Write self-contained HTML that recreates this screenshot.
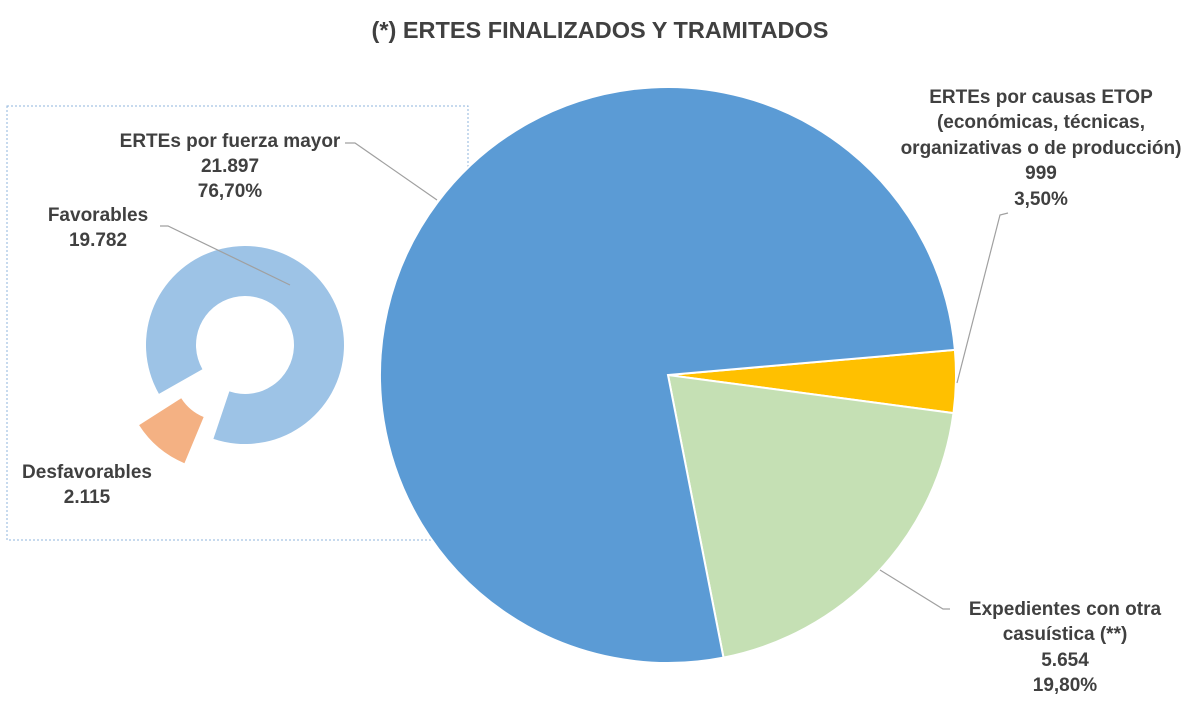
<!DOCTYPE html>
<html><head><meta charset="utf-8"><style>
body{margin:0;background:#fff;width:1200px;height:715px;overflow:hidden}
svg text{font-family:"Liberation Sans",sans-serif;font-weight:bold;fill:#404040}
</style></head><body>
<svg id="chart" width="1200" height="715">
<text x="600" y="38" text-anchor="middle" font-size="23.5">(*) ERTES FINALIZADOS Y TRAMITADOS</text>
<rect x="7" y="106" width="461" height="434" fill="none" stroke="#8fb4dc" stroke-dasharray="2,2"/>
<g id="pie"></g><g id="donut"></g>
<g font-size="19" text-anchor="middle">
<text x="230" y="147">ERTEs por fuerza mayor</text>
<text x="230" y="172">21.897</text>
<text x="230" y="197">76,70%</text>
<text x="98" y="221">Favorables</text>
<text x="98" y="246">19.782</text>
<text x="87" y="478">Desfavorables</text>
<text x="87" y="503">2.115</text>
<text x="1041" y="103">ERTEs por causas ETOP</text>
<text x="1041" y="128">(económicas, técnicas,</text>
<text x="1041" y="154">organizativas o de producción)</text>
<text x="1041" y="179">999</text>
<text x="1041" y="205">3,50%</text>
<text x="1065" y="615">Expedientes con otra</text>
<text x="1065" y="640">casuística (**)</text>
<text x="1065" y="666">5.654</text>
<text x="1065" y="691">19,80%</text>
</g>
<g fill="none" stroke="#a0a0a0" stroke-width="1.2">
<polyline points="345,143 355,143 437,200"/>
<polyline points="160,226 168,226 290,285"/>
<polyline points="957,383 1000,215 1008,213"/>
<polyline points="880,570 943,609 950,609"/>
</g>
</svg>
<script>
const pieCategories=["etop","otra","fuerza-mayor"];
const pieValues=[999,5654,21897];
const pieColors=["#ffc000","#c5e0b4","#5b9bd5"];
const donutCategories=["favorables","desfavorables"];
const donutValues=[19782,2115];
const donutColors=["#9dc3e6","#f4b183"];
const NS="http://www.w3.org/2000/svg";
function pt(cx,cy,r,a){const t=a*Math.PI/180;return [cx+r*Math.cos(t),cy+r*Math.sin(t)];}
function sector(cx,cy,r,a0,a1){const p0=pt(cx,cy,r,a0),p1=pt(cx,cy,r,a1);const l=(a1-a0)>180?1:0;
return `M${cx},${cy}L${p0}A${r},${r} 0 ${l} 1 ${p1}Z`;}
function ring(cx,cy,r0,r1,a0,a1){const l=(a1-a0)>180?1:0;const a=pt(cx,cy,r1,a0),b=pt(cx,cy,r1,a1),c=pt(cx,cy,r0,a1),d=pt(cx,cy,r0,a0);
return `M${a}A${r1},${r1} 0 ${l} 1 ${b}L${c}A${r0},${r0} 0 ${l} 0 ${d}Z`;}
const pie=document.getElementById('pie');
let tot=pieValues.reduce((s,v)=>s+v,0),ang=-5;
pieValues.forEach((v,i)=>{const sw=v/tot*360;const p=document.createElementNS(NS,'path');
p.setAttribute('d',sector(668,375,288,ang,ang+sw));p.setAttribute('fill',pieColors[i]);p.setAttribute('stroke','#fff');p.setAttribute('stroke-width','2');


pie.appendChild(p);ang+=sw;});
const donut=document.getElementById('donut');
let dt=donutValues.reduce((s,v)=>s+v,0);
const dSw=donutValues[1]/dt*360;const dStart=130-dSw/2;
const fSw=donutValues[0]/dt*360;
[[0,dStart+dSw+3,dStart+dSw+3+fSw-7,0],[1,dStart,dStart+dSw,35]].forEach(([i,a0,a1,ex])=>{
const mid=(130)*Math.PI/180;const cx=245+ex*Math.cos(mid),cy=345+ex*Math.sin(mid);
const p=document.createElementNS(NS,'path');
p.setAttribute('d',ring(cx,cy,49,99,a0,a1));p.setAttribute('fill',donutColors[i]);


donut.appendChild(p);});
</script>
</body></html>
